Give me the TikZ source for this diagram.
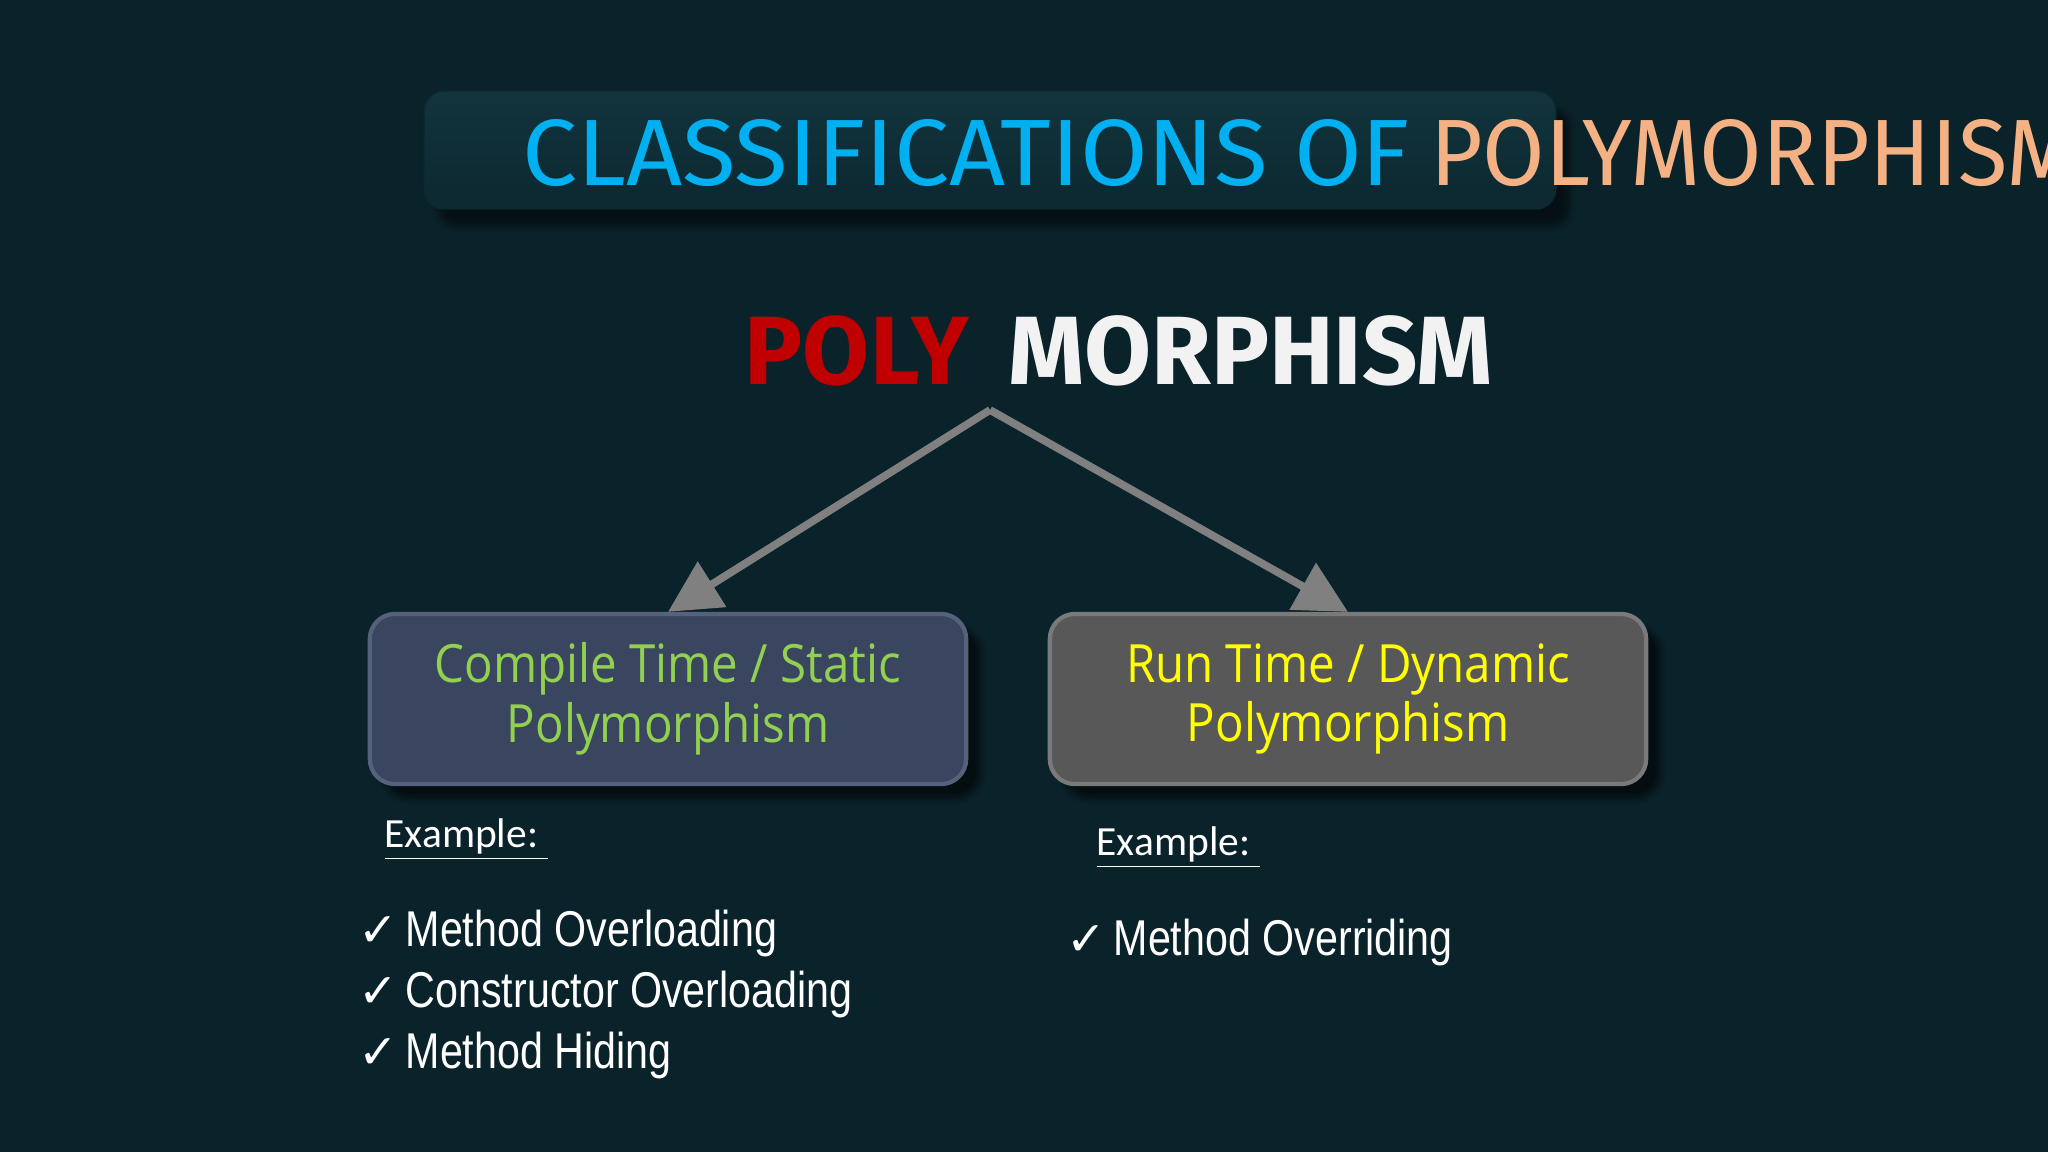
\documentclass[tikz,border=0pt]{standalone}
\usepackage{fontspec}
\usetikzlibrary{arrows.meta,shadows.blur}
\newfontfamily\comicfont{Fira Sans}
\newfontfamily\bannerfont{Fira Sans}[FakeStretch=1.04]
\newfontfamily\bannernarrow{Fira Sans}[FakeStretch=0.96]
\newfontfamily\handfont{Open Sans}[FakeStretch=0.9]
\newfontfamily\notefont{Carlito}
\newfontfamily\itemfont{Liberation Sans}[FakeStretch=0.82]
\newfontfamily\symfont{DejaVu Sans}
\definecolor{bgteal}{HTML}{0A222A}
\definecolor{titlefill}{HTML}{0C2830}
\definecolor{titletop}{HTML}{12343D}
\definecolor{titleblue}{HTML}{00B0F0}
\definecolor{titleorange}{HTML}{F4B183}
\definecolor{polyred}{HTML}{C00000}
\definecolor{staticfill}{HTML}{3A4660}
\definecolor{staticedge}{HTML}{56627C}
\definecolor{dynfill}{HTML}{585858}
\definecolor{dynedge}{HTML}{7A7A7A}
\definecolor{arrowgray}{HTML}{808080}
\definecolor{handgreen}{HTML}{92D050}
\definecolor{handyellow}{HTML}{FFFF00}
\tikzset{>={Triangle[length=0.52cm,width=0.52cm]}}
\tikzset{
  kindbox/.style={rounded corners=0.25cm, minimum width=5.96cm, minimum height=1.7cm,
    line width=1.2pt, align=center, font=\handfont\fontsize{15}{17}\selectfont,
    blur shadow={shadow xshift=4pt, shadow yshift=-4pt, shadow opacity=60}},
  notelabel/.style={anchor=base west, text=white, inner sep=0pt, font=\notefont\fontsize{11.8}{14}\selectfont},
  tick/.style={anchor=base west, text=white, inner sep=0pt, font=\symfont\fontsize{13.5}{14}\selectfont},
  itemtext/.style={anchor=base west, text=white, inner sep=0pt, font=\itemfont\fontsize{14.3}{16}\selectfont}
}
\begin{document}
\begin{tikzpicture}[x=0.01cm,y=-0.01cm]
            \fill[bgteal] (0,0) rectangle (2048,1152);
            \useasboundingbox (0,0) rectangle (2048,1152);
            \node[rounded corners=0.2cm, top color=titletop, bottom color=titlefill, draw=titlefill,
                minimum width=11.31cm, minimum height=1.18cm,
                blur shadow={shadow xshift=4pt, shadow yshift=-5pt, shadow opacity=50}]
                (titlebox) at (990,150) {};
            \node[anchor=base west, inner sep=0pt, font=\bannerfont\fontsize{26.8}{30}\selectfont]
                (title) at (522,186) {\color{titleblue}CLASSIFICATIONS OF\hspace{0.2cm}\bannernarrow\color{titleorange}POLYMORPHISM};
            \node[anchor=base west, inner sep=0pt, font=\comicfont\bfseries\fontsize{27.6}{30}\selectfont]
                (heading) at (744,385) {\color{polyred}POLY\hspace{0.40cm}\color[HTML]{F2F2F2}MORPHISM};
            \coordinate (fork) at (990,410);
            \node[kindbox, fill=staticfill, draw=staticedge, text=handgreen] (static) at (668,699)
                {Compile Time / Static\\Polymorphism};
            \node[kindbox, fill=dynfill, draw=dynedge, text=handyellow] (dynamic) at (1348,699)
                {Run Time / Dynamic\\Polymorphism};
            \draw[->, arrowgray, line width=2.2pt] (fork) -- (static.north);
            \draw[->, arrowgray, line width=2.2pt] (fork) -- (dynamic.north);
            \node[notelabel] (staticex) at (384,847) {\underline{Example:\ }};
            \node[notelabel] (dynex) at (1096,855) {\underline{Example:\ }};
            \foreach \y/\t [count=\i] in {946/Method Overloading,1007/Constructor Overloading,1068/Method Hiding}{
                \node[tick] (tick\i) at (358,\y) {✓};
                \node[itemtext] (item\i) at (405,\y) {\t};
            }
            \node[tick] (tick4) at (1066,955) {✓};
            \node[itemtext] (item4) at (1113,955) {Method Overriding};
        \end{tikzpicture}
\end{document}
